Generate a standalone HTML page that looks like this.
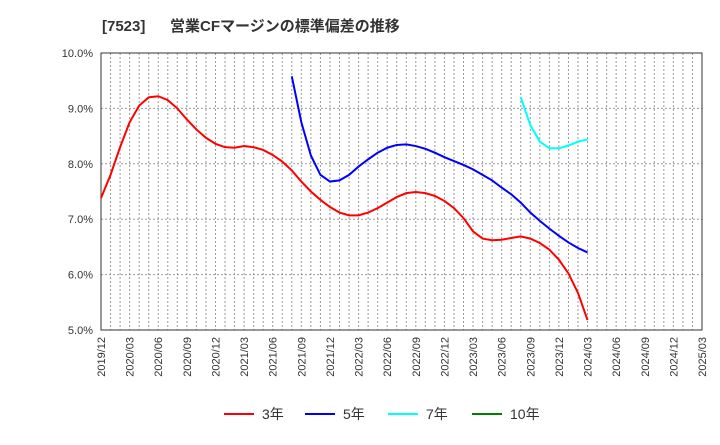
<!DOCTYPE html>
<html><head><meta charset="utf-8"><style>
body{margin:0;background:#fff;font-family:"Liberation Sans","Noto Sans CJK JP",sans-serif;}
svg text{font-family:"Liberation Sans","Noto Sans CJK JP",sans-serif;}
</style></head><body>
<svg id="chart" width="720" height="440">
<text y="31" font-size="15" font-weight="bold" fill="#333"><tspan x="102">[7523]</tspan><tspan x="170">営業CFマージンの標準偏差の推移</tspan></text>
<g id="grid"></g><g id="axes"></g><g id="series"></g><g id="legend"></g>
</svg>
<script>
const xTickLabels=["2019/12","2020/03","2020/06","2020/09","2020/12","2021/03","2021/06","2021/09","2021/12","2022/03","2022/06","2022/09","2022/12","2023/03","2023/06","2023/09","2023/12","2024/03","2024/06","2024/09","2024/12","2025/03"];
const yTicks=[5,6,7,8,9,10];
const s3start=0;
const s3=[7.38,7.8,8.3,8.75,9.05,9.2,9.22,9.15,9.0,8.8,8.62,8.47,8.36,8.3,8.29,8.32,8.3,8.25,8.16,8.04,7.88,7.68,7.5,7.35,7.22,7.12,7.07,7.07,7.12,7.2,7.3,7.4,7.47,7.49,7.47,7.42,7.33,7.2,7.02,6.78,6.65,6.62,6.63,6.66,6.69,6.65,6.57,6.45,6.27,6.02,5.67,5.18];
const s5start=20;
const s5=[9.58,8.75,8.15,7.8,7.68,7.7,7.8,7.95,8.08,8.2,8.29,8.34,8.35,8.32,8.27,8.2,8.12,8.05,7.98,7.9,7.8,7.7,7.57,7.45,7.3,7.12,6.97,6.83,6.7,6.58,6.48,6.4];
const s7start=44;
const s7=[9.2,8.7,8.4,8.28,8.28,8.33,8.4,8.44];
const s10=[];
const legendLabels=["3年","5年","7年","10年"];
const colors=["#ff0000","#0000ff","#00ffff","#008000"];
const L=101,R=702,T=53,B=330,NM=63;
const xs=m=>L+(R-L)*m/NM;
const ys=v=>B-(B-T)*(v-5)/5;
const NS="http://www.w3.org/2000/svg";
function mk(t,a,p){const e=document.createElementNS(NS,t);for(const k in a)e.setAttribute(k,a[k]);p.appendChild(e);return e;}
const grid=document.getElementById('grid'),axes=document.getElementById('axes'),ser=document.getElementById('series'),leg=document.getElementById('legend');
for(let m=1;m<NM;m++){const l=mk('line',{x1:xs(m),x2:xs(m),y1:T,y2:B,stroke:'#999','stroke-dasharray':'2,2','stroke-width':1},grid);

}
yTicks.forEach(v=>{const l=mk('line',{x1:L,x2:R,y1:ys(v),y2:ys(v),stroke:'#999','stroke-dasharray':'2,2','stroke-width':1},grid);


const t=mk('text',{x:L-8,y:ys(v)+4,'text-anchor':'end','font-size':11,fill:'#333'},axes);
t.textContent=v.toFixed(1)+'%';

});
xTickLabels.forEach((s,i)=>{const x=xs(i*3);const t=mk('text',{x:0,y:0,transform:`translate(${x+4},337) rotate(-90)`,'text-anchor':'end','font-size':11,fill:'#333'},axes);
t.textContent=s;

});
const fr=mk('rect',{x:L,y:T,width:R-L,height:B-T,fill:'none',stroke:'#333','stroke-width':1},axes);


[[s3,s3start],[s5,s5start],[s7,s7start],[s10,0]].forEach(([d,st],k)=>{if(!d.length)return;
const p=mk('polyline',{points:d.map((v,i)=>xs(st+i)+','+ys(v)).join(' '),fill:'none',stroke:colors[k],'stroke-width':2},ser);

});
const lx=[224,305,388,472];
legendLabels.forEach((s,k)=>{const g=mk('g',{},leg);


mk('line',{x1:lx[k],x2:lx[k]+30,y1:414,y2:414,stroke:colors[k],'stroke-width':2},g);
const t=mk('text',{x:lx[k]+38,y:419,'font-size':14,fill:'#333'},g);t.textContent=s;});
</script>
</body></html>
